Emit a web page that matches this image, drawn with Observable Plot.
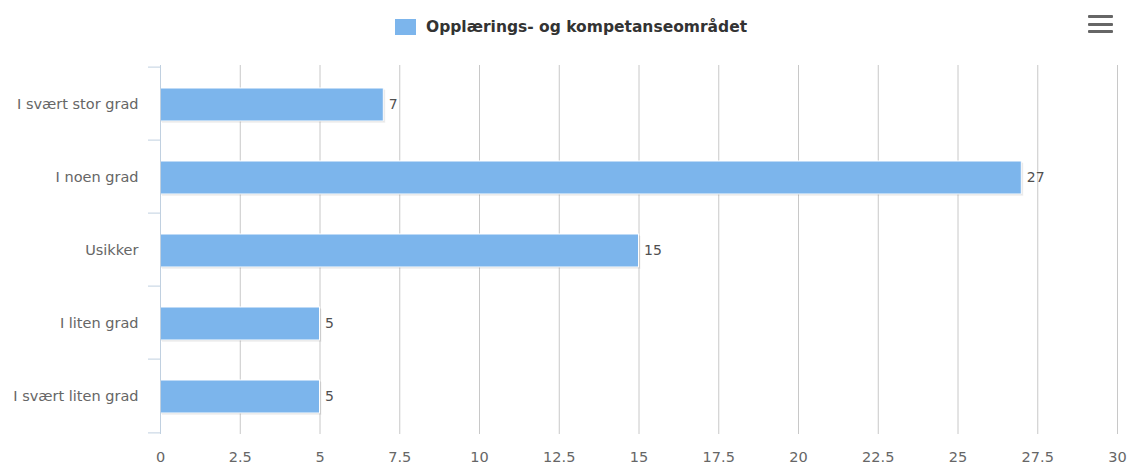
<!DOCTYPE html>
<html>
<head>
<meta charset="utf-8">
<script src="https://cdn.jsdelivr.net/npm/d3@7"></script>
<script src="https://cdn.jsdelivr.net/npm/@observablehq/plot@0.6"></script>
<style>
  html, body { margin: 0; padding: 0; background: #fff; }
  #wrap { position: relative; width: 1131px; height: 465px; font-family: "DejaVu Sans", sans-serif; }
  #legend { height: 55px; position: relative; }
  #legend .item { position: absolute; left: 395px; top: 18px; display: flex; align-items: center; }
  #legend .swatch { width: 21px; height: 16px; background: #7cb5ec; margin-right: 10px; }
  #legend .label { font-weight: bold; font-size: 15.5px; color: #333; }
  #menu { position: absolute; left: 1088px; top: 15px; width: 25px; }
  #menu div { height: 3px; background: #666; margin-bottom: 4.5px; border-radius: 1px; }
</style>
</head>
<body>
<div id="wrap">
  <div id="legend"></div>
  <div id="menu"><div></div><div></div><div></div></div>
  <div id="chart"></div>
</div>
<script>
const seriesName = "Opplærings- og kompetanseområdet";
const categories = ["I svært stor grad", "I noen grad", "Usikker", "I liten grad", "I svært liten grad"];
const values = [7, 27, 15, 5, 5];
const xTicks = [0, 2.5, 5, 7.5, 10, 12.5, 15, 17.5, 20, 22.5, 25, 27.5, 30];

const data = categories.map((c, i) => ({category: c, value: values[i]}));

document.getElementById("legend").innerHTML =
  `<div class="item"><div class="swatch"></div><div class="label">${seriesName}</div></div>`;

const W = 1131, H = 410, mT = 10, mB = 31, mL = 160, mR = 14;
const step = (H - mT - mB) / categories.length;
const barIn = {insetTop: 21, insetBottom: 19};

const chart = Plot.plot({
  width: W, height: H,
  marginTop: mT, marginBottom: mB, marginLeft: mL, marginRight: mR,
  style: {fontFamily: "DejaVu Sans", fontSize: "14.5px", color: "#666", background: "white", overflow: "visible"},
  x: {domain: [0, 30], ticks: xTicks, tickFormat: d => String(d), tickSize: 0, tickPadding: 17, label: null},
  y: {domain: categories, padding: 0, tickSize: 0, tickPadding: 22, label: null},
  marks: [
    Plot.ruleX(xTicks.slice(1), {stroke: "#c8c8c8", strokeWidth: 1}),
    Plot.barX(data, {x: "value", y: "category", fill: "#000", fillOpacity: 0.05, dx: 2, dy: 2, ...barIn}),
    Plot.barX(data, {x: "value", y: "category", fill: "#000", fillOpacity: 0.1, dx: 1, dy: 1, ...barIn}),
    Plot.barX(data, {x: "value", y: "category", fill: "#7cb5ec", stroke: "white", strokeWidth: 1, ...barIn}),
    Plot.ruleX([0], {stroke: "#C0D0E0", strokeWidth: 1}),
    Plot.ruleY(categories, {y: d => d, x1: 0, x2: 0, insetLeft: -12, dy: -step / 2, stroke: "#C0D0E0"}),
    Plot.ruleY(categories.slice(-1), {y: d => d, x1: 0, x2: 0, insetLeft: -12, dy: step / 2, stroke: "#C0D0E0"}),
    Plot.text(data, {x: "value", y: "category", text: d => String(d.value), dx: 5, dy: 1, textAnchor: "start", fill: "#505050", fontSize: 14})
  ]
});
document.getElementById("chart").appendChild(chart);
</script>
</body>
</html>
